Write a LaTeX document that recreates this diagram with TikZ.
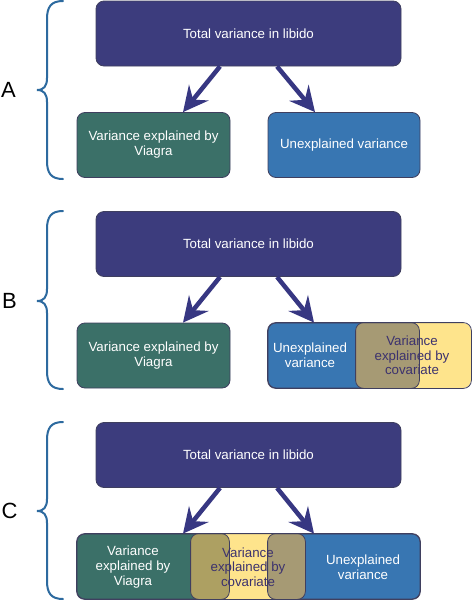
\documentclass[tikz,border=0pt]{standalone}
\usepackage{fontspec}
\setmainfont{Liberation Sans}
\usetikzlibrary{arrows.meta,calc}
\definecolor{navy}{HTML}{3C3C7D}
\definecolor{arrowc}{HTML}{373782}
\definecolor{grnc}{HTML}{3B7068}
\definecolor{bluc}{HTML}{3876B2}
\definecolor{yelc}{HTML}{FEE48C}
\definecolor{olivec}{HTML}{ADA062}
\definecolor{tanc}{HTML}{A69A74}
\definecolor{covc}{HTML}{3C326E}
\definecolor{edgec}{HTML}{3F3F5F}
\definecolor{bracec}{HTML}{2D6A9F}
\tikzset{
  box/.style={rounded corners=8pt, draw=edgec, line width=0.8pt, minimum height=65pt,
    inner sep=0pt, text=white, font=\fontsize{13.3}{15}\selectfont, align=center},
  topbox/.style={box, fill=navy, minimum width=305pt},
  grnbox/.style={box, fill=grnc, minimum width=153pt},
  blubox/.style={box, fill=bluc, minimum width=152pt},
  yelbox/.style={box, fill=yelc, draw=none},
  outl/.style={draw=edgec, line width=0.8pt, rounded corners=8pt},
  txt/.style={text=white, font=\fontsize{13.3}{15}\selectfont, align=center, inner sep=0pt},
  covt/.style={text=covc, font=\fontsize{13.3}{14.5}\selectfont, align=center, inner sep=0pt},
  arr/.style={draw=arrowc, line width=4.5pt, -{Stealth[length=25pt,width=25pt,inset=9pt]}},
  bracestyle/.style={draw=bracec, line width=2pt, line cap=round},
  lab/.style={font=\fontsize{22}{26}\selectfont, text=black, inner sep=0pt}
}
\newcommand\drawbrace[3]{%
  \draw[bracestyle] (63,#1) .. controls (51,#1) and (47,#1+6) .. (47,#1+18)
    -- (47,#2-12) .. controls (47,#2-4) and (44,#2) .. (37,#2)
    .. controls (44,#2) and (47,#2+4) .. (47,#2+12)
    -- (47,#3-18) .. controls (47,#3-6) and (51,#3) .. (63,#3);}
\begin{document}
\begin{tikzpicture}[x=1pt,y=-1pt]
\useasboundingbox (0,0) rectangle (472,600);
\fill[white] (0,0) rectangle (472,600);

% ---------- Panel A ----------
\node[lab] (labA) at (8.5,90) {A};
\drawbrace{1}{90}{179}
\node[topbox] (topA) at (248.5,33.5) {Total variance in libido};
\node[grnbox] (grnA) at (153.5,145) {Variance explained by\\Viagra};
\node[blubox] (bluA) at (344,145) {Unexplained variance};
\draw[arr] ([xshift=-28.5pt]topA.south) -- ([xshift=29.5pt]grnA.north);
\draw[arr] ([xshift=28.5pt]topA.south) -- ([xshift=-29pt]bluA.north);

% ---------- Panel B ----------
\node[lab] (labB) at (9.5,301) {B};
\drawbrace{211}{301}{389}
\node[topbox] (topB) at (248.5,244) {Total variance in libido};
\node[grnbox] (grnB) at (153.5,355.5) {Variance explained by\\Viagra};
\node[blubox, minimum width=151pt] (bluB) at (343.5,355.5) {};
\node[yelbox, minimum width=115pt] (yelB) at (413.5,355.5) {};
\begin{scope}
  \clip[rounded corners=8pt] (bluB.north west) rectangle (bluB.south east);
  \fill[tanc, rounded corners=8pt] (yelB.north west) rectangle (yelB.south east);
\end{scope}
\draw[outl] (bluB.north west) rectangle (bluB.south east);
\draw[outl] (yelB.north west) rectangle (yelB.south east);
\node[txt] (uB) at (310,355.5) {Unexplained\\variance};
\node[covt] (cB) at (412,355.5) {Variance\\explained by\\covariate};
\draw[arr] ([xshift=-28.5pt]topB.south) -- ([xshift=29.5pt]grnB.north);
\draw[arr] ([xshift=28.5pt]topB.south) -- ([xshift=-29.5pt]bluB.north);

% ---------- Panel C ----------
\node[lab] (labC) at (9.5,511) {C};
\drawbrace{422}{511}{599}
\node[topbox] (topC) at (248.5,455) {Total variance in libido};
\node[grnbox, minimum width=152pt] (grnC) at (153,566.5) {};
\node[blubox] (bluC) at (344,566.5) {};
\node[yelbox, minimum width=114pt] (yelC) at (248,566.5) {};
\begin{scope}
  \clip[rounded corners=8pt] (grnC.north west) rectangle (grnC.south east);
  \fill[olivec, rounded corners=8pt] (yelC.north west) rectangle (yelC.south east);
\end{scope}
\begin{scope}
  \clip[rounded corners=8pt] (bluC.north west) rectangle (bluC.south east);
  \fill[tanc, rounded corners=8pt] (yelC.north west) rectangle (yelC.south east);
\end{scope}
\draw[outl] (grnC.north west) rectangle (grnC.south east);
\draw[outl] (bluC.north west) rectangle (bluC.south east);
\draw[outl] (yelC.north west) rectangle (yelC.south east);
\node[txt] (vC) at (133,567) {Variance\\explained by\\Viagra};
\node[covt] (cC) at (248,567) {Variance\\explained by\\covariate};
\node[txt] (uC) at (363,567) {Unexplained\\variance};
\draw[arr] ([xshift=-28.5pt]topC.south) -- ([xshift=30pt]grnC.north);
\draw[arr] ([xshift=28.5pt]topC.south) -- ([xshift=-30pt]bluC.north);
\end{tikzpicture}
\end{document}
